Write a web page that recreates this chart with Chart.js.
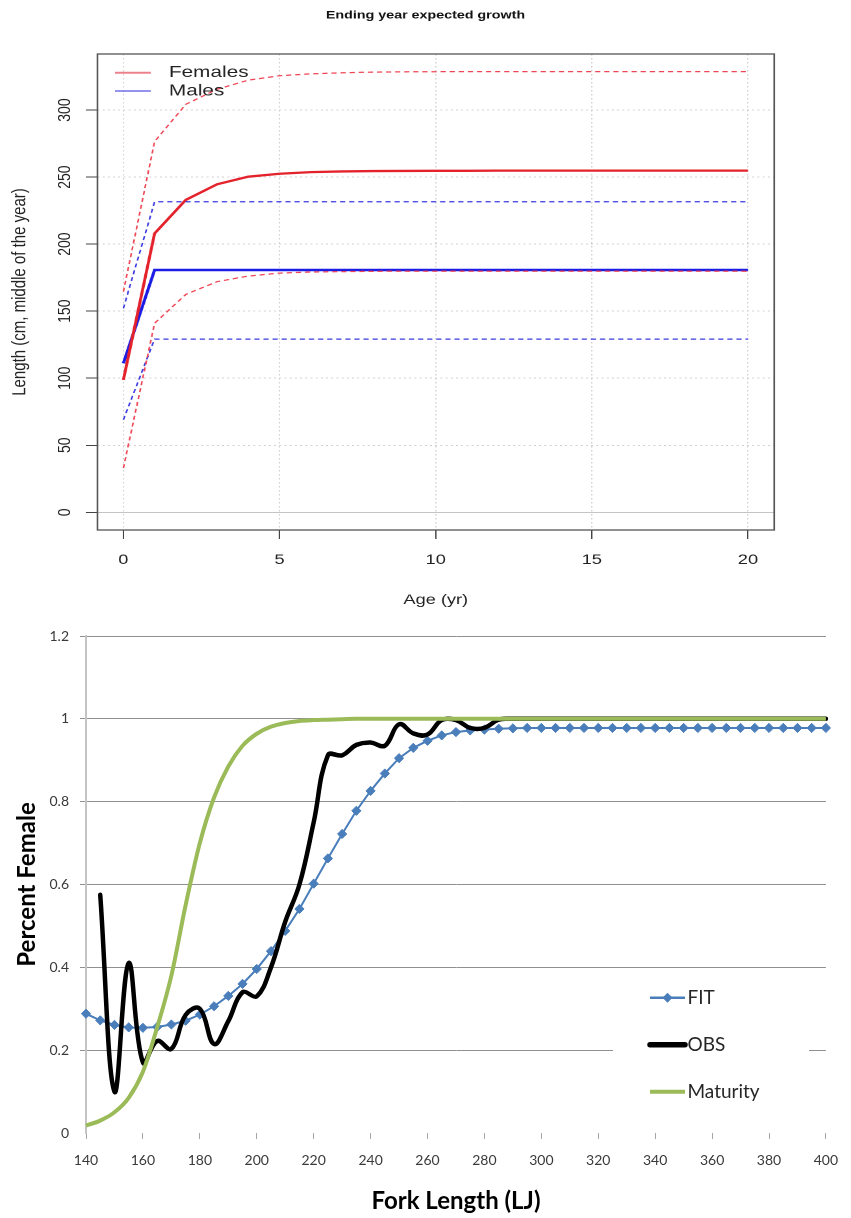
<!DOCTYPE html>
<html>
<head>
<meta charset="utf-8">
<title>Growth and percent female</title>
<script src="https://cdn.jsdelivr.net/npm/chart.js@4.4.0/dist/chart.umd.min.js"></script>
<style>
  html, body { margin: 0; padding: 0; background: #fff; }
  /* the R plot in the source image is stretched sideways, so draw it narrow and widen it */
  #growthBox { position: absolute; left: 0; top: 0; width: 655px; height: 615px; transform: scaleX(1.2992); transform-origin: 0 0; }
  #sexBox { position: absolute; left: 0; top: 615px; width: 851px; height: 603px; }
</style>
</head>
<body>
<div id="growthBox"><canvas id="growthChart"></canvas></div>
<div id="sexBox"><canvas id="sexChart"></canvas></div>
<script>
// ---- top chart: ending year expected growth ----
var ages = [0, 1, 2, 3, 4, 5, 6, 7, 8, 9, 10, 11, 12, 13, 14, 15, 16, 17, 18, 19, 20];
var femaleMean  = [98.7, 208, 233, 244.6, 250.3, 252.5, 253.7, 254.2, 254.5, 254.6, 254.7, 254.7, 254.8, 254.8, 254.8, 254.8, 254.8, 254.8, 254.8, 254.8, 254.8];
var femaleUpper = [164.5, 276.5, 304.3, 315.5, 322.3, 325.6, 327, 327.8, 328.3, 328.5, 328.6, 328.7, 328.7, 328.7, 328.7, 328.7, 328.7, 328.7, 328.7, 328.7, 328.7];
var femaleLower = [33, 141, 162.5, 172, 176.2, 178.4, 179.2, 179.5, 179.7, 179.8, 179.8, 179.8, 179.8, 179.8, 179.8, 179.8, 179.8, 179.8, 179.8, 179.8, 179.8];
var maleMean  = [111.1, 180.7, 180.7, 180.7, 180.7, 180.7, 180.7, 180.7, 180.7, 180.7, 180.7, 180.7, 180.7, 180.7, 180.7, 180.7, 180.7, 180.7, 180.7, 180.7, 180.7];
var maleUpper = [152.1, 231.6, 231.6, 231.6, 231.6, 231.6, 231.6, 231.6, 231.6, 231.6, 231.6, 231.6, 231.6, 231.6, 231.6, 231.6, 231.6, 231.6, 231.6, 231.6, 231.6];
var maleLower = [69, 129.2, 129.2, 129.2, 129.2, 129.2, 129.2, 129.2, 129.2, 129.2, 129.2, 129.2, 129.2, 129.2, 129.2, 129.2, 129.2, 129.2, 129.2, 129.2, 129.2];
var ageTicks = [0, 5, 10, 15, 20];
var lengthTicks = [0, 50, 100, 150, 200, 250, 300];
var growthLegend = ["Females", "Males"];

// ---- bottom chart: percent female by fork length ----
var fitLengths = [140, 145, 150, 155, 160, 165, 170, 175, 180, 185, 190, 195, 200, 205, 210, 215, 220, 225, 230, 235, 240, 245, 250, 255, 260, 265, 270, 275, 280, 285, 290, 295, 300, 305, 310, 315, 320, 325, 330, 335, 340, 345, 350, 355, 360, 365, 370, 375, 380, 385, 390, 395, 400];
var fitValues = [0.288, 0.272, 0.261, 0.255, 0.254, 0.256, 0.262, 0.271, 0.286, 0.306, 0.331, 0.36, 0.396, 0.439, 0.488, 0.541, 0.602, 0.663, 0.722, 0.778, 0.826, 0.868, 0.905, 0.93, 0.947, 0.96, 0.968, 0.972, 0.974, 0.976, 0.977, 0.978, 0.978, 0.978, 0.978, 0.978, 0.978, 0.978, 0.978, 0.978, 0.978, 0.978, 0.978, 0.978, 0.978, 0.978, 0.978, 0.978, 0.978, 0.978, 0.978, 0.978, 0.978];
var obsLengths = [145, 150, 155, 160, 165, 170, 175, 180, 185, 190, 195, 200, 205, 210, 215, 220, 225, 230, 235, 240, 245, 250, 255, 260, 265, 270, 275, 280, 285, 290, 295, 300, 305, 310, 315, 320, 325, 330, 335, 340, 345, 350, 355, 360, 365, 370, 375, 380, 385, 390, 395, 400];
var obsValues = [0.575, 0.1, 0.41, 0.17, 0.222, 0.203, 0.285, 0.3, 0.215, 0.27, 0.34, 0.33, 0.4, 0.51, 0.6, 0.75, 0.912, 0.912, 0.937, 0.943, 0.935, 0.987, 0.965, 0.962, 0.997, 0.997, 0.978, 0.978, 0.998, 1, 1, 1, 1, 1, 1, 1, 1, 1, 1, 1, 1, 1, 1, 1, 1, 1, 1, 1, 1, 1, 1, 1];
var maturityLengths = fitLengths;
var maturityValues = [0.018, 0.03, 0.05, 0.085, 0.148, 0.255, 0.38, 0.55, 0.7, 0.81, 0.885, 0.935, 0.964, 0.981, 0.99, 0.995, 0.997, 0.998, 0.999, 1, 1, 1, 1, 1, 1, 1, 1, 1, 1, 1, 1, 1, 1, 1, 1, 1, 1, 1, 1, 1, 1, 1, 1, 1, 1, 1, 1, 1, 1, 1, 1, 1, 1];
var lengthAxisTicks = [140, 160, 180, 200, 220, 240, 260, 280, 300, 320, 340, 360, 380, 400];
var percentTicks = [0, 0.2, 0.4, 0.6, 0.8, 1, 1.2];
var sexLegend = ["FIT", "OBS", "Maturity"];

function toPoints(xs, ys) {
  return xs.map(function (x, i) { return { x: x, y: ys[i] }; });
}

// box around the plot region (R's box())
var plotFrame = {
  id: "plotFrame",
  afterDraw: function (chart, args, opts) {
    var a = chart.chartArea;
    var c = chart.ctx;
    c.save();
    c.strokeStyle = opts.color;
    c.lineWidth = opts.width;
    c.strokeRect(a.left, a.top, a.right - a.left, a.bottom - a.top);
    c.restore();
  }
};

// legend drawn inside the plot, both charts have one
var insideLegend = {
  id: "insideLegend",
  afterDraw: function (chart, args, o) {
    var c = chart.ctx;
    c.save();
    if (o.fill) {
      c.fillStyle = o.fill;
      c.fillRect(o.box[0], o.box[1], o.box[2], o.box[3]);
    }
    o.items.forEach(function (it, i) {
      var y = o.y + i * o.gap;
      c.strokeStyle = it.color;
      c.lineWidth = it.width;
      c.lineCap = it.cap || "butt";
      c.beginPath();
      c.moveTo(o.x, y);
      c.lineTo(o.x + o.len, y);
      c.stroke();
      if (it.marker) {
        var mx = o.x + o.len / 2, r = it.marker;
        c.fillStyle = it.color;
        c.beginPath();
        c.moveTo(mx, y - r);
        c.lineTo(mx + r, y);
        c.lineTo(mx, y + r);
        c.lineTo(mx - r, y);
        c.closePath();
        c.fill();
      }
      c.fillStyle = o.textColor;
      c.font = o.font;
      c.textAlign = "left";
      c.textBaseline = "middle";
      c.fillText(it.label, o.textX, y);
    });
    c.restore();
  }
};

var rFont = "'Liberation Sans', Arial, sans-serif";
var xlFont = "Lato, 'Open Sans', sans-serif";

function growthLine(label, values, color, width, dash) {
  return {
    label: label,
    data: toPoints(ages, values),
    borderColor: color,
    borderWidth: width,
    borderDash: dash || [],
    pointRadius: 0,
    tension: 0,
    fill: false
  };
}

var growthChart = new Chart(document.getElementById("growthChart"), {
  type: "line",
  data: {
    datasets: [
      growthLine("Females upper", femaleUpper, "#ee4655", 1.25, [4, 3]),
      growthLine("Females lower", femaleLower, "#ee4655", 1.25, [4, 3]),
      growthLine("Males upper", maleUpper, "#3a3ae0", 1.25, [4, 3]),
      growthLine("Males lower", maleLower, "#3a3ae0", 1.25, [4, 3]),
      growthLine("Females", femaleMean, "#e4222b", 2.3),
      growthLine("Males", maleMean, "#1c1ce4", 2.4)
    ]
  },
  options: {
    responsive: true,
    maintainAspectRatio: false,
    animation: false,
    devicePixelRatio: 2,
    events: [],
    layout: { padding: 0 },
    scales: {
      x: {
        type: "linear",
        min: -0.83,
        max: 20.84,
        afterBuildTicks: function (s) { s.ticks = ageTicks.map(function (v) { return { value: v }; }); },
        afterFit: function (s) { s.height = 85; },
        grid: {
          color: "#d0d0d0",
          lineWidth: 1,
          tickColor: "#444",
          tickLength: 9,
          tickWidth: 1
        },
        border: { display: false, dash: [1.5, 2.5] },
        ticks: {
          autoSkip: false,
          maxRotation: 0,
          padding: 12.6,
          color: "#222",
          font: { family: rFont, size: 14 },
          callback: function (v) { return String(v); }
        },
        title: {
          display: true,
          text: "Age (yr)",
          color: "#222",
          font: { family: rFont, size: 14 },
          padding: { top: 0, bottom: 6.6 }
        }
      },
      y: {
        type: "linear",
        min: -13.2,
        max: 341.8,
        afterBuildTicks: function (s) { s.ticks = lengthTicks.map(function (v) { return { value: v }; }); },
        afterFit: function (s) { s.width = 75; },
        grid: {
          color: function (ctx) { return ctx.tick && ctx.tick.value === 0 ? "#c4c4c4" : "#d0d0d0"; },
          lineWidth: 1,
          tickColor: "#444",
          tickLength: 9,
          tickWidth: 1
        },
        border: {
          display: false,
          dash: function (ctx) { return ctx.tick && ctx.tick.value === 0 ? [] : [1.5, 2.5]; }
        },
        ticks: {
          autoSkip: false,
          minRotation: 90,
          maxRotation: 90,
          crossAlign: "center",
          padding: 4.3,
          color: "#222",
          font: { family: rFont, size: 14 },
          callback: function (v) { return String(v); }
        },
        title: {
          display: true,
          text: "Length (cm, middle of the year)",
          color: "#222",
          font: { family: rFont, size: 15 },
          padding: { top: 6.4, bottom: 0 }
        }
      },
      // empty right margin so the title stays centred on the whole canvas
      yMargin: {
        type: "linear",
        position: "right",
        display: true,
        afterFit: function (s) { s.width = 59.1; },
        grid: { display: false },
        border: { display: false },
        ticks: { display: false }
      }
    },
    plugins: {
      legend: { display: false },
      tooltip: { enabled: false },
      title: {
        display: true,
        text: "Ending year expected growth",
        color: "#111",
        font: { family: rFont, size: 11, weight: "bold" },
        padding: { top: 8.7, bottom: 32.1 }
      },
      plotFrame: { color: "#555", width: 1.3 },
      insideLegend: {
        x: 88.5, len: 27.5, y: 72.7, gap: 18.3, textX: 130,
        font: "16px " + rFont, textColor: "#222",
        items: [
          { label: growthLegend[0], color: "rgba(228,60,80,0.65)", width: 2 },
          { label: growthLegend[1], color: "rgba(90,90,228,0.65)", width: 2 }
        ]
      }
    }
  },
  plugins: [plotFrame, insideLegend]
});

var sexChart = new Chart(document.getElementById("sexChart"), {
  type: "line",
  data: {
    datasets: [
      {
        label: "FIT",
        data: toPoints(fitLengths, fitValues),
        borderColor: "#4a7ebb",
        backgroundColor: "#4a7ebb",
        borderWidth: 2,
        pointStyle: "rectRot",
        pointRadius: 4.6,
        pointBorderWidth: 1,
        pointBackgroundColor: "#4a7ebb",
        pointBorderColor: "#4a7ebb",
        tension: 0,
        clip: false,
        order: 3
      },
      {
        label: "OBS",
        data: toPoints(obsLengths, obsValues),
        borderColor: "#000",
        borderWidth: 4.5,
        borderCapStyle: "round",
        borderJoinStyle: "round",
        pointRadius: 0,
        tension: 0.4,
        clip: false,
        order: 2
      },
      {
        label: "Maturity",
        data: toPoints(maturityLengths, maturityValues),
        borderColor: "#9bbb59",
        borderWidth: 4,
        pointRadius: 0,
        cubicInterpolationMode: "monotone",
        clip: false,
        order: 1
      }
    ]
  },
  options: {
    responsive: true,
    maintainAspectRatio: false,
    animation: false,
    events: [],
    layout: { padding: { left: 0, right: 14, top: 21, bottom: 0 } },
    scales: {
      x: {
        type: "linear",
        min: 140,
        max: 400,
        afterBuildTicks: function (s) { s.ticks = lengthAxisTicks.map(function (v) { return { value: v }; }); },
        afterFit: function (s) { s.height = 85; },
        grid: {
          drawOnChartArea: false,
          drawTicks: true,
          tickLength: 6,
          tickColor: "#a6a6a6",
          tickWidth: 1
        },
        border: { display: false },
        ticks: {
          autoSkip: false,
          maxRotation: 0,
          padding: 12.9,
          color: "#3a3a3a",
          font: { family: xlFont, size: 14 },
          callback: function (v) { return String(v); }
        },
        title: {
          display: true,
          text: "Fork Length (LJ)",
          color: "#000",
          font: { family: xlFont, size: 24, weight: "bold" },
          padding: { top: 0, bottom: 2.6 }
        }
      },
      y: {
        type: "linear",
        min: 0,
        max: 1.2,
        afterBuildTicks: function (s) { s.ticks = percentTicks.map(function (v) { return { value: v }; }); },
        afterFit: function (s) { s.width = 86; },
        grid: {
          color: function (ctx) { return ctx.tick && ctx.tick.value === 0 ? "rgba(0,0,0,0)" : "#909090"; },
          tickColor: function (ctx) { return ctx.tick && ctx.tick.value === 0 ? "rgba(0,0,0,0)" : "#909090"; },
          lineWidth: 1,
          tickLength: 6
        },
        border: { display: true, color: "#c4c4c4", width: 2 },
        ticks: {
          autoSkip: false,
          padding: 11,
          color: "#3a3a3a",
          font: { family: xlFont, size: 14 },
          callback: function (v) { return String(v); }
        },
        title: {
          display: true,
          text: "Percent Female",
          color: "#000",
          font: { family: xlFont, size: 24, weight: "bold" },
          padding: { top: 12.6, bottom: 0 }
        }
      }
    },
    plugins: {
      legend: { display: false },
      tooltip: { enabled: false },
      insideLegend: {
        fill: "#fff",
        box: [613, 362, 196, 138],
        x: 650, len: 35, y: 382.7, gap: 47, textX: 687.5,
        font: "19px " + xlFont, textColor: "#262626",
        items: [
          { label: sexLegend[0], color: "#4a7ebb", width: 2.5, marker: 5 },
          { label: sexLegend[1], color: "#000", width: 5.5, cap: "round" },
          { label: sexLegend[2], color: "#9bbb59", width: 4 }
        ]
      }
    }
  },
  plugins: [insideLegend]
});
</script>
</body>
</html>
